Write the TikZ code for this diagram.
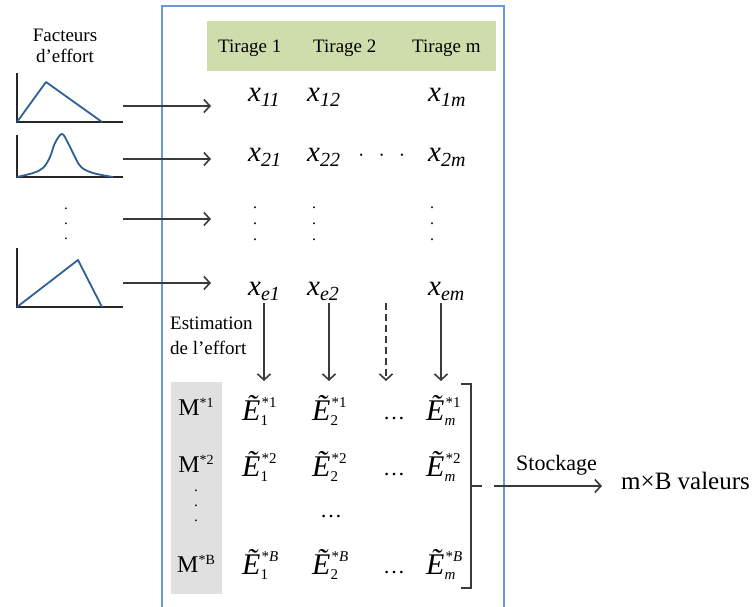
\documentclass[tikz,border=0pt]{standalone}
\usepackage{fontspec}
\setmainfont{Liberation Serif}
\usetikzlibrary{arrows.meta}
\definecolor{frameblue}{HTML}{6A9AD6}
\definecolor{greenbg}{HTML}{CFDDAC}
\definecolor{graybg}{HTML}{E0E0E0}
\definecolor{curveblue}{HTML}{2E6096}
\definecolor{ink}{HTML}{3A3A3A}
\newcommand{\fs}[1]{\fontsize{#1}{#1}\selectfont}
\newcommand{\xv}[1]{{\fs{29}\textit{x}\raisebox{-5pt}{\fs{20}\textit{#1}}}}
\newcommand{\Et}[2]{{\fs{30}\textit{Ẽ}\rlap{\hspace{1pt}\raisebox{13pt}{\fs{15}#2}}\raisebox{-5.5pt}{\fs{15}#1}}}
\newcommand{\Ms}[1]{{\fs{24}M\raisebox{8pt}{\fs{14}*#1}}}
\begin{document}
\begin{tikzpicture}[x=1pt,y=-1pt,
  txt/.style={font=\fs{19}, inner sep=0pt, anchor=base west},
  lab/.style={inner sep=0pt, anchor=base west},
  vdots/.style={inner sep=0pt, anchor=center, align=center, font=\fs{15}},
  arr/.style={draw=ink, line width=1.3pt, -{Straight Barb[length=6pt,width=13pt,line width=1.6pt]}},
  axisline/.style={draw=black!85, line width=1.3pt},
  curve/.style={draw=curveblue, line width=1.8pt, line join=round}]
\useasboundingbox (0,0) rectangle (753,607);

% frame
\draw[frameblue, line width=1.2pt] (162,612) -- (162,6) -- (504,6) -- (504,612);

% header
\node[fill=greenbg, minimum width=289pt, minimum height=50pt, anchor=north west, inner sep=0pt] (hdr) at (207,21) {};
\node[txt] (t1) at (218,53) {Tirage 1};
\node[txt] (t2) at (313,53) {Tirage 2};
\node[txt] (tm) at (412,53) {Tirage m};

% left title
\node[txt, anchor=base] (fac) at (65,42) {Facteurs};
\node[txt, anchor=base] (deff) at (65,63) {d’effort};

% chart 1
\draw[axisline] (17,73) -- (17,122) -- (123,122);
\draw[curve] (17,122) -- (46,82) -- (102,122);
% chart 2
\draw[axisline] (17,135) -- (17,177) -- (123,177);
\draw[curve] plot[smooth, tension=0.6] coordinates {(17,177) (33,173) (43,168) (50,157) (55,143) (62,134) (68,143) (75,157) (81,167) (93,173) (113,177)};
% dots
\node[vdots] (ldots) at (66,224) {.\\.\\.};
% chart 3
\draw[axisline] (17,248) -- (17,307) -- (123,307);
\draw[curve] (17,307) -- (78,260) -- (102,307);

% arrow starts/ends
\coordinate (a1) at (123,106); \coordinate (b1) at (211,106);
\coordinate (a2) at (123,159); \coordinate (b2) at (211,159);
\coordinate (a3) at (123,219); \coordinate (b3) at (211,219);
\coordinate (a4) at (123,283); \coordinate (b4) at (211,283);
\draw[arr] (a1) -- (b1);
\draw[arr] (a2) -- (b2);
\draw[arr] (a3) -- (b3);
\draw[arr] (a4) -- (b4);

% x matrix
\node[lab] (x11) at (248,102) {\xv{11}};
\node[lab] (x12) at (307,102) {\xv{12}};
\node[lab] (x1m) at (428,102) {\xv{1m}};
\node[lab] (x21) at (248,162) {\xv{21}};
\node[lab] (x22) at (307,162) {\xv{22}};
\node[lab, font=\fs{19}] (hd) at (358,162) {·\hspace{14pt}·\hspace{14pt}·};
\node[lab] (x2m) at (428,162) {\xv{2m}};
\node[vdots, font=\fs{16}] (v1) at (255,224) {.\\.\\.};
\node[vdots, font=\fs{16}] (v2) at (314,224) {.\\.\\.};
\node[vdots, font=\fs{16}] (v3) at (432,224) {.\\.\\.};
\node[lab] (xe1) at (248,295) {\xv{e1}};
\node[lab] (xe2) at (307,295) {\xv{e2}};
\node[lab] (xem) at (428,295) {\xv{em}};

% estimation
\node[txt] (est1) at (170,329) {Estimation};
\node[txt] (est2) at (170,354) {de l’effort};

% vertical arrows
\coordinate (c1) at (264,303); \coordinate (d1) at (264,381);
\coordinate (c2) at (329,303); \coordinate (d2) at (329,381);
\coordinate (c3) at (386,303); \coordinate (d3) at (386,381);
\coordinate (c4) at (441,303); \coordinate (d4) at (441,381);
\draw[arr] (c1) -- (d1);
\draw[arr] (c2) -- (d2);
\draw[arr, dash pattern=on 7pt off 4pt] (c3) -- (d3);
\draw[arr] (c4) -- (d4);

% gray column
\node[fill=graybg, minimum width=51pt, minimum height=212pt, anchor=north west, inner sep=0pt] (gcol) at (171,382) {};
\node[lab, anchor=base] (m1) at (196,415) {\Ms{1}};
\node[lab, anchor=base] (m2) at (196,472) {\Ms{2}};
\node[vdots] (mdots) at (196,506) {.\\.\\.};
\node[lab, anchor=base] (mB) at (196,572) {\Ms{B}};

% E matrix
\node[lab] (e11) at (242,420) {\Et{1}{*1}};
\node[lab] (e21) at (312,420) {\Et{2}{*1}};
\node[lab, font=\fs{22}] (ed1) at (383,419) {…};
\node[lab] (em1) at (426,420) {\Et{\textit{m}}{*1}};
\node[lab] (e12) at (242,476) {\Et{1}{*2}};
\node[lab] (e22) at (312,476) {\Et{2}{*2}};
\node[lab, font=\fs{22}] (ed2) at (383,475) {…};
\node[lab] (em2) at (426,476) {\Et{\textit{m}}{*2}};
\node[lab, font=\fs{22}] (edm) at (320,517) {…};
\node[lab] (e1B) at (242,574) {\Et{1}{*\textit{B}}};
\node[lab] (e2B) at (312,574) {\Et{2}{*\textit{B}}};
\node[lab, font=\fs{22}] (ed3) at (383,573) {…};
\node[lab] (emB) at (426,574) {\Et{\textit{m}}{*\textit{B}}};

% bracket
\draw[ink, line width=1.1pt] (461,384) -- (471,384) -- (471,588) -- (461,588);
\coordinate (br) at (471,486);
\coordinate (brt) at (482,486);
\draw[ink, line width=1.1pt] (br) -- (brt);

% stockage
\coordinate (s0) at (494,486);
\coordinate (s1) at (602,486);
\draw[arr] (s0) -- (s1);
\node[lab, font=\fs{25}] (mbv) at (621,489) {m×B valeurs};
\node[txt, font=\fs{22}] (stock) at (516,470) {Stockage};
\end{tikzpicture}
\end{document}
